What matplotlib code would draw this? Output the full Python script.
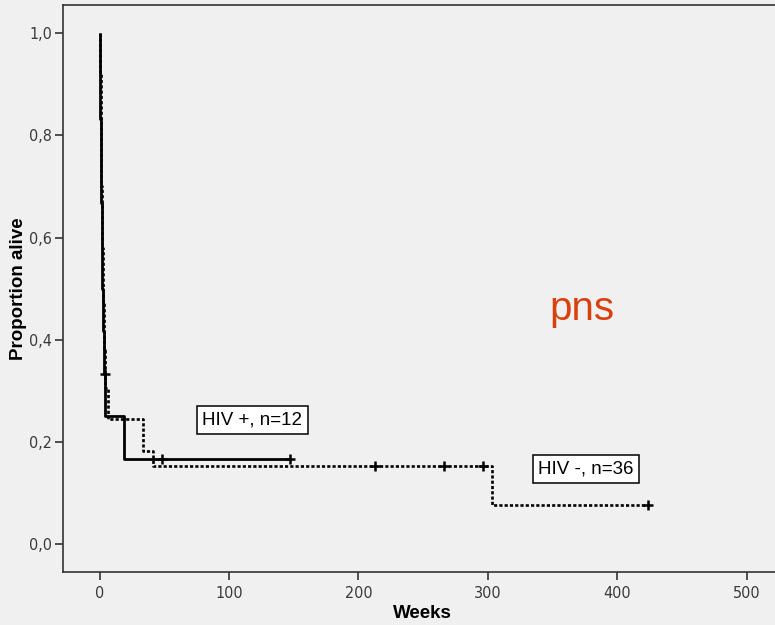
import matplotlib
matplotlib.use("Agg")
import matplotlib.pyplot as plt
from matplotlib.ticker import FuncFormatter

# ---- data ----
# HIV+ (n=12), solid line
pos_times = [0.0, 0.3, 0.6, 0.9, 1.3, 1.7, 2.1, 2.6, 3.1, 3.9, 18.8, 147.5]
pos_surv = [1.0, 0.917, 0.833, 0.75, 0.667, 0.583, 0.5, 0.417, 0.333, 0.25, 0.167, 0.167]
pos_cens_t = [3.9, 48.5, 147.5]
pos_cens_s = [0.333, 0.167, 0.167]

# HIV- (n=36), dotted line
neg_times = [0.0, 0.4, 0.8, 1.2, 1.8, 2.5, 3.2, 4.0, 6.2, 33.5, 41.2, 303.0, 424.0]
neg_surv = [1.0, 0.92, 0.81, 0.70, 0.58, 0.47, 0.38, 0.305, 0.244, 0.183, 0.153, 0.076, 0.076]
neg_cens_t = [213.0, 266.0, 296.0, 424.0]
neg_cens_s = [0.153, 0.153, 0.153, 0.076]

x_ticks = [0, 100, 200, 300, 400, 500]
y_ticks = [0.0, 0.2, 0.4, 0.6, 0.8, 1.0]

bg = "#f0f0f0"
dark = "#3a3a3a"
fam = ["Liberation Sans", "DejaVu Sans"]

fig = plt.figure(figsize=(7.75, 6.25), dpi=100, facecolor=bg)
ax = fig.add_axes([0.0817, 0.0843, 0.9222, 0.9082])
ax.set_facecolor(bg)

ax.step(pos_times, pos_surv, where="post", color="black", lw=2.0, solid_capstyle="butt")
ax.step(neg_times, neg_surv, where="post", color="black", lw=1.9,
        linestyle=(0, (1.2, 0.8)))
ax.plot(pos_cens_t, pos_cens_s, linestyle="none", marker="+", ms=6.5, mew=1.8, color="black")
ax.plot(neg_cens_t, neg_cens_s, linestyle="none", marker="+", ms=6.5, mew=1.8, color="black")

ax.set_xlim(-28.0, 524.3)
ax.set_ylim(-0.0555, 1.056)
ax.set_xticks(x_ticks)
ax.set_yticks(y_ticks)
ax.yaxis.set_major_formatter(FuncFormatter(lambda v, p: f"{v:.1f}".replace(".", ",")))

for s in ax.spines.values():
    s.set_color("#333333")
    s.set_linewidth(1.2)
ax.spines["right"].set_visible(False)

ax.tick_params(direction="out", length=6, width=1.2, color="#333333",
               labelsize=11.5, labelcolor=dark, pad=2)
for lab in ax.get_xticklabels() + ax.get_yticklabels():
    lab.set_family(["DejaVu Sans"])
    lab.set_fontstretch("condensed")
ax.tick_params(axis="x", pad=4)

ax.set_xlabel("Weeks", fontsize=13.5, fontweight="bold", family=fam)
ax.xaxis.set_label_coords(0.502, -0.058)
ax.set_ylabel("Proportion alive", fontsize=13.5, fontweight="bold", family=fam)
ax.yaxis.set_label_coords(-0.051, 0.50)

box = dict(boxstyle="square,pad=0.3", facecolor="white", edgecolor="black", lw=1.1)
ax.text(118, 0.243, "HIV +, n=12", fontsize=13.5, ha="center", va="center",
        family=fam, bbox=box)
ax.text(376, 0.147, "HIV -, n=36", fontsize=13.5, ha="center", va="center",
        family=fam, bbox=box)

ax.text(373, 0.46, "pns", fontsize=29, color="#d8400e", ha="center", va="center",
        family=fam)

fig.savefig("out.png", dpi=100, facecolor=bg)
